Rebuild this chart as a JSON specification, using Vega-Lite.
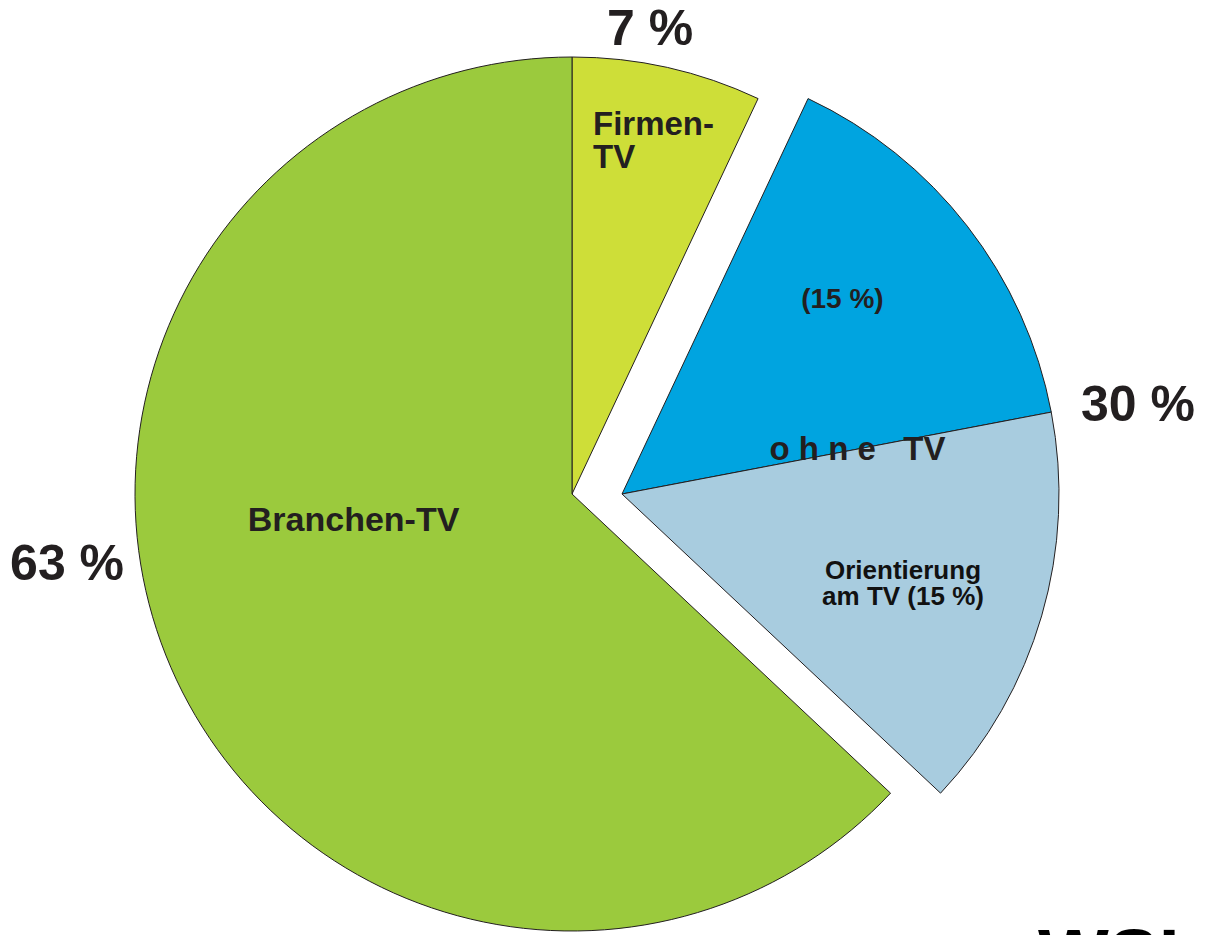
{
  "$schema": "https://vega.github.io/schema/vega-lite/v6.json",
  "width": 874,
  "height": 874,
  "autosize": "none",
  "padding": {"left": 135, "top": 57, "right": 203, "bottom": 4},
  "background": "white",
  "config": {"view": {"stroke": null}, "text": {"font": "Liberation Sans"}},
  "datasets": {
    "slices": [
      {"cat": "Firmen-TV", "value": 7, "order": 1, "part": "main"},
      {"cat": "ohne TV", "value": 15, "order": 2, "part": "exploded"},
      {"cat": "Orientierung am TV", "value": 15, "order": 3, "part": "exploded"},
      {"cat": "Branchen-TV", "value": 63, "order": 4, "part": "main"}
    ],
    "labels": [
      {"label": "7 %", "pos": 2.74, "dist": 1.043, "kind": "share"},
      {"label": "30 %", "pos": 22.96, "dist": 1.306, "kind": "share"},
      {"label": "63 %", "pos": 72.32, "dist": 1.172, "kind": "share"},
      {"label": "Firmen-\nTV", "pos": 0.93, "dist": 0.823, "kind": "firmen"},
      {"label": "Branchen-TV", "pos": 72.33, "dist": 0.507, "kind": "branchen"},
      {"label": "o\u00a0h\u00a0n\u00a0e\u00a0\u00a0\u00a0TV", "pos": 23.11, "dist": 0.658, "kind": "ohne"},
      {"label": "(15 %)", "pos": 15.41, "dist": 0.751, "kind": "small"},
      {"label": "Orientierung\nam TV (15 %)", "pos": 29.0, "dist": 0.782, "kind": "orient"},
      {"label": "WSI", "pos": 37.85, "dist": 1.542, "kind": "logo"}
    ]
  },
  "layer": [
    {
      "data": {"name": "slices"},
      "transform": [
        {"stack": "value", "groupby": [], "sort": [{"field": "order"}], "as": ["start", "end"]},
        {"filter": "datum.part === 'main'"}
      ],
      "mark": {"type": "arc", "stroke": "#231F20", "strokeWidth": 1},
      "encoding": {
        "theta": {"field": "start", "type": "quantitative", "scale": {"domain": [0, 100], "range": [0, 6.283185307179586]}},
        "theta2": {"field": "end"},
        "color": {"field": "cat", "type": "nominal", "legend": null,
          "scale": {"domain": ["Firmen-TV", "ohne TV", "Orientierung am TV", "Branchen-TV"], "range": ["#CEDE38", "#00A4E0", "#A8CCDF", "#9BCA3D"]}}
      }
    },
    {
      "data": {"name": "slices"},
      "transform": [
        {"stack": "value", "groupby": [], "sort": [{"field": "order"}], "as": ["start", "end"]},
        {"filter": "datum.part === 'exploded'"}
      ],
      "mark": {"type": "arc", "stroke": "#231F20", "strokeWidth": 1, "xOffset": 50, "yOffset": 0},
      "encoding": {
        "theta": {"field": "start", "type": "quantitative", "scale": {"domain": [0, 100], "range": [0, 6.283185307179586]}},
        "theta2": {"field": "end"},
        "color": {"field": "cat", "type": "nominal", "legend": null,
          "scale": {"domain": ["Firmen-TV", "ohne TV", "Orientierung am TV", "Branchen-TV"], "range": ["#CEDE38", "#00A4E0", "#A8CCDF", "#9BCA3D"]}}
      }
    },
    {
      "data": {"name": "labels"},
      "transform": [{"filter": "datum.kind === 'share'"}],
      "mark": {"type": "text", "fontSize": 50, "fontWeight": "bold", "align": "center", "baseline": "alphabetic", "color": "#231F20"},
      "encoding": {
        "theta": {"field": "pos", "type": "quantitative", "stack": null, "scale": {"domain": [0, 100], "range": [0, 6.283185307179586]}},
        "radius": {"field": "dist", "type": "quantitative", "scale": {"type": "linear", "domain": [0, 1], "range": [0, 437]}},
        "text": {"field": "label"}
      }
    },
    {
      "data": {"name": "labels"},
      "transform": [{"filter": "datum.kind === 'firmen'"}],
      "mark": {"type": "text", "fontSize": 33, "fontWeight": "bold", "align": "left", "baseline": "alphabetic", "lineBreak": "\n", "lineHeight": 33, "color": "#231F20"},
      "encoding": {
        "theta": {"field": "pos", "type": "quantitative", "stack": null, "scale": {"domain": [0, 100], "range": [0, 6.283185307179586]}},
        "radius": {"field": "dist", "type": "quantitative", "scale": {"type": "linear", "domain": [0, 1], "range": [0, 437]}},
        "text": {"field": "label"}
      }
    },
    {
      "data": {"name": "labels"},
      "transform": [{"filter": "datum.kind === 'branchen'"}],
      "mark": {"type": "text", "fontSize": 34, "fontWeight": "bold", "align": "center", "baseline": "alphabetic", "color": "#231F20"},
      "encoding": {
        "theta": {"field": "pos", "type": "quantitative", "stack": null, "scale": {"domain": [0, 100], "range": [0, 6.283185307179586]}},
        "radius": {"field": "dist", "type": "quantitative", "scale": {"type": "linear", "domain": [0, 1], "range": [0, 437]}},
        "text": {"field": "label"}
      }
    },
    {
      "data": {"name": "labels"},
      "transform": [{"filter": "datum.kind === 'ohne'"}],
      "mark": {"type": "text", "fontSize": 33, "fontWeight": "bold", "align": "center", "baseline": "alphabetic", "color": "#231F20"},
      "encoding": {
        "theta": {"field": "pos", "type": "quantitative", "stack": null, "scale": {"domain": [0, 100], "range": [0, 6.283185307179586]}},
        "radius": {"field": "dist", "type": "quantitative", "scale": {"type": "linear", "domain": [0, 1], "range": [0, 437]}},
        "text": {"field": "label"}
      }
    },
    {
      "data": {"name": "labels"},
      "transform": [{"filter": "datum.kind === 'small'"}],
      "mark": {"type": "text", "fontSize": 28, "fontWeight": "bold", "align": "center", "baseline": "alphabetic", "color": "#231F20"},
      "encoding": {
        "theta": {"field": "pos", "type": "quantitative", "stack": null, "scale": {"domain": [0, 100], "range": [0, 6.283185307179586]}},
        "radius": {"field": "dist", "type": "quantitative", "scale": {"type": "linear", "domain": [0, 1], "range": [0, 437]}},
        "text": {"field": "label"}
      }
    },
    {
      "data": {"name": "labels"},
      "transform": [{"filter": "datum.kind === 'orient'"}],
      "mark": {"type": "text", "fontSize": 26, "fontWeight": "bold", "align": "center", "baseline": "alphabetic", "lineBreak": "\n", "lineHeight": 26, "color": "#111111"},
      "encoding": {
        "theta": {"field": "pos", "type": "quantitative", "stack": null, "scale": {"domain": [0, 100], "range": [0, 6.283185307179586]}},
        "radius": {"field": "dist", "type": "quantitative", "scale": {"type": "linear", "domain": [0, 1], "range": [0, 437]}},
        "text": {"field": "label"}
      }
    },
    {
      "data": {"name": "labels"},
      "transform": [{"filter": "datum.kind === 'logo'"}],
      "mark": {"type": "text", "fontSize": 75, "fontWeight": "bold", "align": "left", "baseline": "alphabetic", "color": "#000000"},
      "encoding": {
        "theta": {"field": "pos", "type": "quantitative", "stack": null, "scale": {"domain": [0, 100], "range": [0, 6.283185307179586]}},
        "radius": {"field": "dist", "type": "quantitative", "scale": {"type": "linear", "domain": [0, 1], "range": [0, 437]}},
        "text": {"field": "label"}
      }
    }
  ]
}
